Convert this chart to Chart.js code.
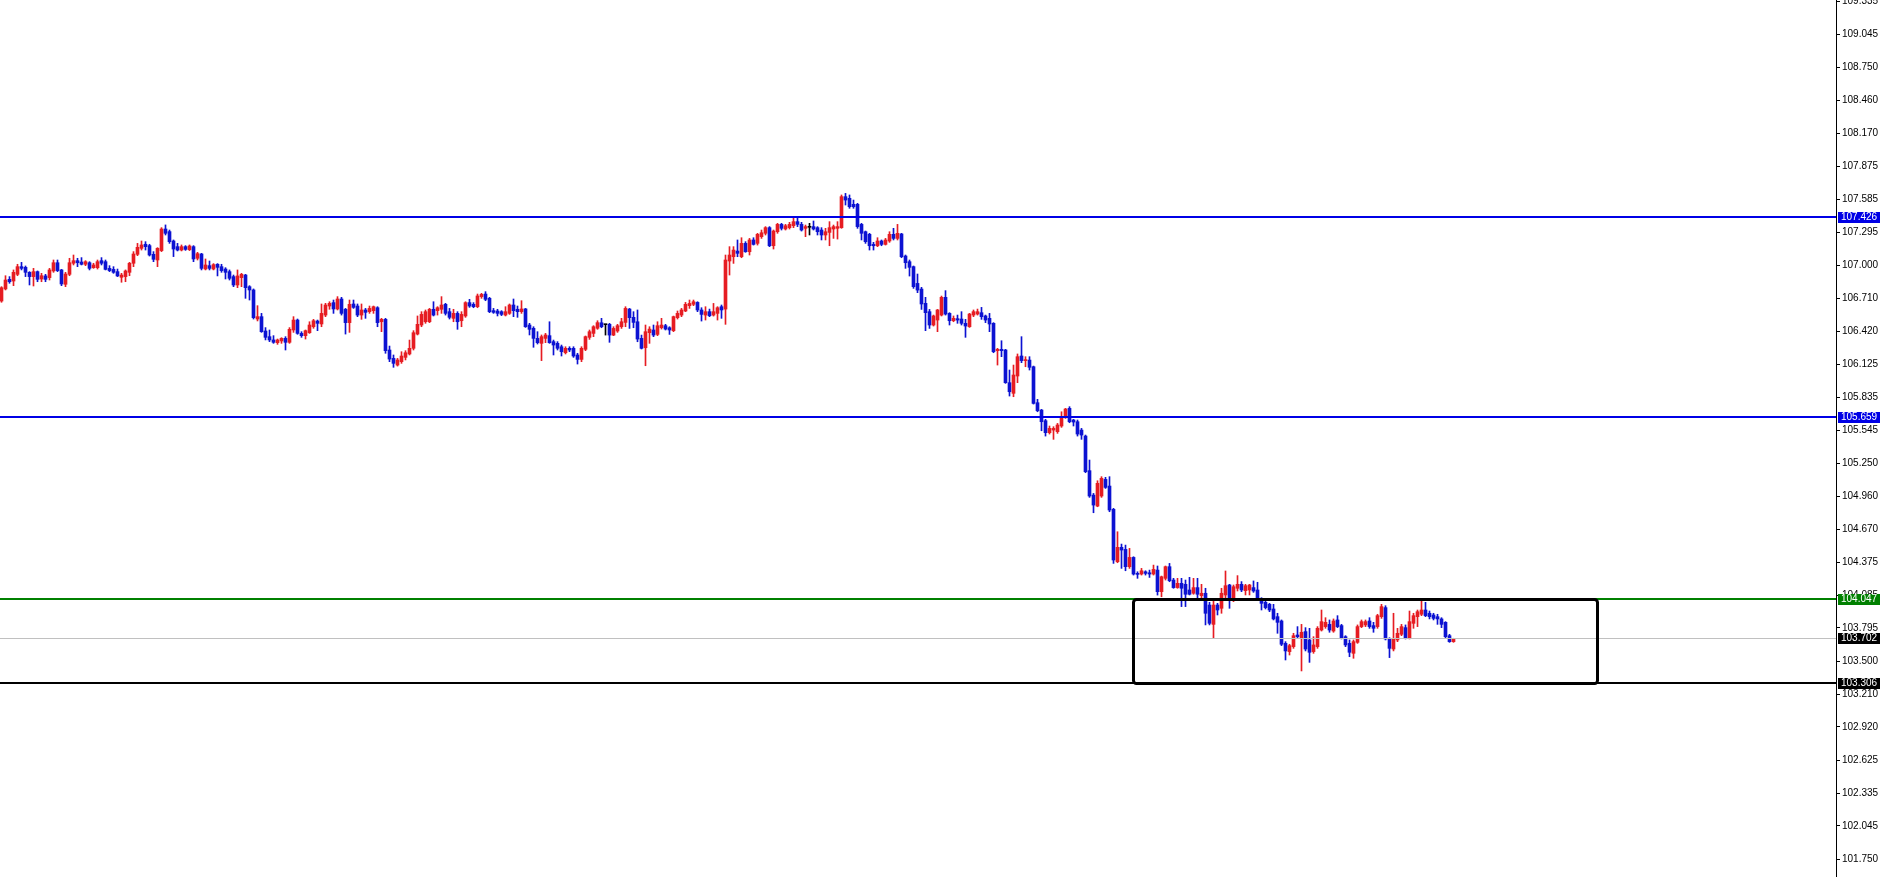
<!DOCTYPE html>
<html><head><meta charset="utf-8">
<script src="https://cdn.jsdelivr.net/npm/chart.js@4.4.1/dist/chart.umd.min.js"></script>
<style>html,body{margin:0;padding:0;background:#fff;overflow:hidden}#wrap{width:1883px;height:877px}</style>
</head><body><div id="wrap"><canvas id="c" width="1883" height="877"></canvas></div>
<script>
const opens=[
106.686,106.793,106.878,106.863,106.922,106.990,106.984,106.940,106.902,106.946,
106.881,106.908,106.893,106.952,107.025,106.961,106.834,106.922,107.020,107.043,
107.031,107.011,107.025,106.981,106.981,107.043,107.034,106.975,106.966,106.946,
106.896,106.902,106.940,107.020,107.099,107.152,107.188,107.176,107.099,107.049,
107.132,107.323,107.300,107.217,107.167,107.137,107.167,107.140,107.167,107.064,
107.102,106.969,106.999,106.969,107.011,106.990,106.969,106.946,106.902,106.828,
106.893,106.916,106.813,106.784,106.527,106.548,106.421,106.371,106.342,106.318,
106.333,106.356,106.321,106.430,106.518,106.400,106.380,106.406,106.459,106.509,
106.483,106.562,106.642,106.672,106.616,106.704,106.613,106.495,106.660,106.642,
106.562,106.607,106.592,106.601,106.627,106.503,106.524,106.253,106.179,106.120,
106.150,106.188,106.218,106.268,106.394,106.474,106.503,106.503,106.613,106.601,
106.613,106.657,106.592,106.533,106.577,106.512,106.554,106.672,106.657,106.636,
106.725,106.748,106.710,106.601,106.598,106.592,106.562,106.577,106.651,106.613,
106.592,106.616,106.474,106.445,106.356,106.312,106.356,106.380,106.327,106.312,
106.282,106.229,106.268,106.268,106.209,106.170,106.259,106.365,106.400,106.445,
106.494,106.477,106.480,106.385,106.421,106.459,106.497,106.615,106.542,106.503,
106.356,106.273,106.406,106.430,106.391,106.450,106.468,106.450,106.424,106.539,
106.562,106.598,106.645,106.657,106.674,106.607,106.562,106.592,106.562,106.577,
106.636,106.615,107.040,107.078,107.128,107.078,107.196,107.122,107.226,107.196,
107.255,107.285,107.335,107.175,107.299,107.364,107.323,107.335,107.352,107.388,
107.364,107.329,107.338,107.344,107.335,107.314,107.270,107.293,107.323,107.329,
107.335,107.609,107.594,107.541,107.541,107.364,107.299,107.276,107.187,107.175,
107.217,107.187,107.217,107.276,107.240,107.279,107.084,107.034,106.990,106.842,
106.792,106.666,106.592,106.474,106.518,106.562,106.719,106.577,106.512,106.530,
106.527,106.489,106.459,106.562,106.571,106.583,106.554,106.533,106.489,106.247,
106.259,106.253,105.964,105.870,106.023,106.200,106.159,106.164,106.105,105.787,
105.722,105.628,105.522,105.545,105.531,105.581,105.657,105.737,105.634,105.619,
105.545,105.492,105.186,104.970,104.873,104.962,105.109,105.050,104.844,104.381,
104.508,104.490,104.337,104.419,104.278,104.272,104.292,104.283,104.272,104.307,
104.116,104.234,104.337,104.219,104.152,104.190,104.181,104.131,104.102,104.152,
104.081,104.102,103.998,103.827,103.998,103.969,104.087,104.175,104.043,104.146,
104.181,104.125,104.131,104.152,104.131,104.057,104.022,104.004,103.963,103.895,
103.857,103.659,103.586,103.630,103.733,103.709,103.763,103.689,103.586,103.630,
103.777,103.807,103.827,103.768,103.866,103.816,103.718,103.659,103.571,103.668,
103.807,103.822,103.857,103.816,103.807,103.895,103.975,103.698,103.609,103.689,
103.739,103.798,103.704,103.836,103.895,103.916,103.954,103.925,103.910,103.895,
103.875,103.845,103.727,103.674];
const highs=[
106.813,106.910,106.902,106.961,107.011,107.028,106.996,106.946,106.975,106.952,
106.931,106.922,106.975,107.049,107.049,106.966,106.940,107.064,107.093,107.064,
107.070,107.043,107.034,107.020,107.049,107.070,107.049,106.999,106.990,106.969,
106.931,106.961,107.028,107.123,107.196,107.217,107.211,107.188,107.123,107.158,
107.335,107.359,107.314,107.226,107.196,107.182,107.176,107.182,107.176,107.117,
107.108,107.058,107.040,107.017,107.017,107.011,106.981,106.961,106.916,106.961,
106.931,106.922,106.822,106.793,106.645,106.577,106.451,106.430,106.380,106.350,
106.362,106.371,106.451,106.548,106.527,106.415,106.430,106.503,106.524,106.518,
106.660,106.666,106.680,106.695,106.725,106.719,106.621,106.695,106.695,106.660,
106.660,106.621,106.642,106.642,106.636,106.533,106.533,106.288,106.209,106.179,
106.238,106.247,106.341,106.424,106.554,106.592,106.607,106.621,106.680,106.636,
106.725,106.666,106.621,106.613,106.592,106.592,106.680,106.701,106.672,106.748,
106.754,106.769,106.719,106.621,106.613,106.601,106.636,106.660,106.704,106.642,
106.689,106.621,106.489,106.459,106.415,106.386,106.400,106.503,106.341,106.327,
106.297,106.282,106.282,106.282,106.224,106.282,106.377,106.430,106.468,106.512,
106.533,106.480,106.489,106.459,106.480,106.533,106.636,106.621,106.592,106.607,
106.385,106.474,106.459,106.474,106.503,106.533,106.480,106.459,106.553,106.598,
106.621,106.674,106.695,106.695,106.680,106.627,106.636,106.615,106.665,106.636,
106.651,107.093,107.167,107.167,107.226,107.246,107.211,107.240,107.246,107.285,
107.314,107.344,107.344,107.314,107.373,107.373,107.364,107.382,107.423,107.423,
107.382,107.358,107.373,107.394,107.344,107.335,107.329,107.388,107.358,107.388,
107.624,107.638,107.624,107.579,107.550,107.373,107.305,107.285,107.205,107.246,
107.226,107.240,107.299,107.329,107.364,107.285,107.093,107.049,106.996,106.925,
106.807,106.719,106.612,106.562,106.612,106.730,106.778,106.583,106.554,106.562,
106.592,106.524,106.577,106.607,106.615,106.630,106.562,106.577,106.495,106.268,
106.335,106.259,106.076,106.120,106.218,106.371,106.194,106.194,106.111,105.817,
105.728,105.640,105.581,105.575,105.604,105.707,105.737,105.752,105.640,105.634,
105.560,105.501,105.280,104.985,105.097,105.133,105.127,105.133,104.853,104.646,
104.537,104.528,104.499,104.425,104.292,104.322,104.301,104.307,104.351,104.343,
104.254,104.343,104.366,104.234,104.234,104.234,104.219,104.243,104.234,104.234,
104.181,104.146,104.022,104.034,104.013,104.146,104.299,104.181,104.175,104.258,
104.205,104.181,104.181,104.211,104.199,104.063,104.034,104.013,104.004,103.925,
103.866,103.674,103.651,103.748,103.807,103.827,103.798,103.792,103.718,103.807,
103.954,103.886,103.866,103.875,103.904,103.827,103.727,103.689,103.689,103.822,
103.866,103.866,103.886,103.845,103.916,104.004,103.992,103.709,103.925,103.792,
103.827,103.822,103.945,103.925,103.954,104.051,104.022,103.945,103.925,103.916,
103.886,103.851,103.739,103.704];
const lows=[
106.675,106.784,106.843,106.822,106.910,106.961,106.902,106.828,106.819,106.857,
106.857,106.857,106.872,106.940,106.946,106.822,106.813,106.910,107.005,106.990,
107.005,106.999,106.961,106.975,106.969,107.005,106.961,106.946,106.931,106.902,
106.852,106.857,106.910,106.990,107.087,107.137,107.137,107.084,107.034,106.990,
107.123,107.270,107.196,107.079,107.129,107.129,107.134,107.132,107.034,107.049,
106.961,106.961,106.961,106.961,106.908,106.940,106.881,106.872,106.813,106.804,
106.813,106.710,106.695,106.527,106.510,106.409,106.342,106.327,106.312,106.303,
106.312,106.253,106.312,106.409,106.392,106.365,106.350,106.400,106.445,106.424,
106.459,106.548,106.613,106.577,106.607,106.562,106.394,106.409,106.621,106.548,
106.524,106.533,106.577,106.577,106.459,106.415,106.224,106.150,106.100,106.111,
106.135,106.165,106.209,106.253,106.386,106.459,106.489,106.495,106.554,106.562,
106.577,106.562,106.527,106.503,106.436,106.459,106.542,106.630,106.627,106.627,
106.710,106.689,106.583,106.577,106.554,106.557,106.554,106.568,106.548,106.542,
106.577,106.453,106.386,106.277,106.306,106.159,106.318,106.312,106.209,106.253,
106.200,106.218,106.238,106.188,106.129,106.150,106.247,106.347,106.371,106.436,
106.450,106.385,106.321,106.380,106.409,106.444,106.459,106.444,106.450,106.326,
106.262,106.114,106.312,106.371,106.380,106.438,106.430,106.391,106.415,106.527,
106.548,106.592,106.621,106.645,106.592,106.509,106.518,106.548,106.553,106.518,
106.533,106.480,106.916,107.019,107.078,107.069,107.117,107.093,107.181,107.181,
107.240,107.270,107.167,107.146,107.285,107.314,107.314,107.323,107.335,107.344,
107.305,107.255,107.270,107.314,107.270,107.226,107.226,107.175,107.240,107.234,
107.329,107.535,107.506,107.506,107.329,107.226,107.196,107.137,107.137,107.167,
107.175,107.181,107.205,107.226,107.226,107.069,106.975,106.907,106.798,106.760,
106.612,106.424,106.444,106.465,106.415,106.554,106.562,106.474,106.503,106.489,
106.474,106.365,106.453,106.548,106.562,106.524,106.495,106.415,106.229,106.120,
106.194,105.958,105.846,105.840,105.964,106.141,106.105,106.076,105.775,105.707,
105.539,105.492,105.510,105.463,105.516,105.569,105.648,105.610,105.581,105.492,
105.463,105.168,104.950,104.814,104.867,104.950,105.029,104.823,104.366,104.372,
104.322,104.301,104.322,104.263,104.234,104.263,104.263,104.242,104.263,104.086,
104.071,104.219,104.204,104.146,104.146,103.984,103.984,104.087,104.093,104.063,
104.063,103.822,103.822,103.709,103.910,103.925,104.043,103.969,104.028,104.122,
104.116,104.087,104.087,104.110,104.051,103.954,103.963,103.939,103.866,103.748,
103.639,103.512,103.556,103.615,103.704,103.415,103.592,103.491,103.571,103.615,
103.768,103.792,103.757,103.757,103.798,103.698,103.630,103.541,103.527,103.659,
103.798,103.807,103.792,103.757,103.792,103.880,103.689,103.533,103.592,103.674,
103.727,103.698,103.698,103.792,103.807,103.904,103.895,103.875,103.866,103.827,
103.798,103.704,103.668,103.668];
const closes=[
106.804,106.872,106.857,106.940,106.990,106.975,106.940,106.902,106.946,106.878,
106.910,106.878,106.961,107.025,106.955,106.837,106.925,107.025,107.043,107.025,
107.011,107.034,106.975,107.005,107.034,107.020,106.966,106.955,106.940,106.908,
106.916,106.952,107.020,107.102,107.161,107.182,107.167,107.093,107.055,107.152,
107.323,107.285,107.211,107.146,107.137,107.167,107.143,107.173,107.058,107.105,
106.975,107.005,106.975,107.008,106.984,106.955,106.940,106.887,106.828,106.908,
106.922,106.804,106.784,106.539,106.548,106.415,106.365,106.342,106.321,106.342,
106.356,106.321,106.436,106.518,106.400,106.380,106.424,106.474,106.512,106.489,
106.577,106.651,106.666,106.616,106.704,106.577,106.495,106.657,106.630,106.562,
106.607,106.586,106.621,106.636,106.495,106.524,106.247,106.173,106.135,106.165,
106.200,106.229,106.268,106.406,106.480,106.568,106.592,106.613,106.562,106.627,
106.651,106.577,106.542,106.577,106.503,106.568,106.672,106.642,106.636,106.731,
106.745,106.701,106.592,106.586,106.577,106.568,106.592,106.651,106.601,106.592,
106.616,106.459,106.436,106.356,106.318,106.371,106.386,106.318,106.297,106.268,
106.238,106.268,106.253,106.200,106.170,106.268,106.371,106.415,106.459,106.495,
106.459,106.477,106.385,106.444,106.468,106.503,106.621,106.539,106.497,106.350,
106.268,106.415,106.438,106.385,106.468,106.474,106.438,106.430,106.548,106.577,
106.607,106.657,106.665,106.680,106.607,106.568,106.592,106.556,106.592,106.627,
106.607,107.049,107.093,107.137,107.108,107.196,107.122,107.226,107.187,107.276,
107.290,107.335,107.175,107.305,107.364,107.329,107.352,107.364,107.388,107.364,
107.314,107.344,107.338,107.323,107.299,107.270,107.299,107.335,107.344,107.344,
107.609,107.579,107.520,107.520,107.344,107.285,107.211,107.175,107.175,107.217,
107.187,107.226,107.276,107.240,107.285,107.078,107.025,106.984,106.813,106.783,
106.660,106.583,106.474,106.554,106.607,106.719,106.571,106.512,106.533,106.518,
106.489,106.465,106.571,106.592,106.592,106.548,106.518,106.483,106.238,106.259,
106.247,105.964,105.884,106.032,106.194,106.159,106.164,106.100,105.781,105.716,
105.619,105.522,105.560,105.560,105.590,105.657,105.731,105.619,105.616,105.510,
105.501,105.177,104.962,104.882,105.074,105.118,105.038,104.838,104.396,104.508,
104.484,104.337,104.419,104.272,104.269,104.301,104.278,104.272,104.313,104.116,
104.248,104.337,104.213,104.152,104.190,104.146,104.093,104.093,104.152,104.093,
104.102,103.925,103.836,103.998,103.954,104.102,104.169,104.043,104.160,104.181,
104.131,104.169,104.175,104.122,104.057,104.013,103.975,103.954,103.875,103.845,
103.651,103.592,103.639,103.727,103.718,103.757,103.609,103.580,103.645,103.792,
103.851,103.845,103.777,103.857,103.807,103.709,103.645,103.580,103.674,103.807,
103.851,103.851,103.807,103.792,103.904,103.984,103.698,103.615,103.698,103.748,
103.807,103.709,103.851,103.904,103.939,103.954,103.904,103.895,103.880,103.875,
103.827,103.718,103.674,103.702];

const tickValues=[109.335,109.045,108.750,108.460,108.170,107.875,107.585,107.295,107.000,106.710,106.420,106.125,105.835,105.545,105.250,104.960,104.670,104.375,104.085,103.795,103.500,103.210,102.920,102.625,102.335,102.045,101.750];
const levelValues=[107.426,105.659,104.047,103.306,103.702];
const boxRange={fromBar:282.9,toBar:398.9,low:103.306,high:104.047};
const yMin=101.593, yMax=109.348;

const levelStyles=[
 {color:'#0000e6',width:2,tag:'#0000e6',text:'#fff'},
 {color:'#0000e6',width:2,tag:'#0000e6',text:'#fff'},
 {color:'#008000',width:2,tag:'#008000',text:'#fff'},
 {color:'#000000',width:2,tag:'#000000',text:'#fff'},
 {color:'#c0c0c0',width:1,tag:'#000000',text:'#fff'}
];
const BULL='#e61c22', BEAR='#0c12d2', DOJI='#000000';
const FONT='"Liberation Sans", Arial, sans-serif';

const idx=closes.map((_,i)=>i);
const colorOf=i=>closes[i]>opens[i]?BULL:(closes[i]<opens[i]?BEAR:DOJI);
const colors=idx.map(colorOf);

const overlay={
  id:'overlay',
  afterDatasetsDraw(chart){
    const {ctx,chartArea:a,scales:{x,y}}=chart;
    ctx.save();
    ctx.beginPath();ctx.rect(a.left,a.top,a.right-a.left,a.bottom-a.top);ctx.clip();
    levelValues.forEach((v,k)=>{
      const st=levelStyles[k];
      const py=y.getPixelForValue(v);
      const yy=st.width%2?Math.round(py)+0.5:Math.round(py);
      ctx.strokeStyle=st.color;ctx.lineWidth=st.width;
      ctx.beginPath();ctx.moveTo(a.left,yy);ctx.lineTo(a.right,yy);ctx.stroke();
    });
    const x0=Math.round(x.getPixelForValue(boxRange.fromBar))+0.5;
    const x1=Math.round(x.getPixelForValue(boxRange.toBar))+0.5;
    const y0=Math.round(y.getPixelForValue(boxRange.high))+0.5;
    const y1=Math.round(y.getPixelForValue(boxRange.low))+0.5;
    ctx.strokeStyle='#000';ctx.lineWidth=3;ctx.lineJoin='round';
    ctx.beginPath();
    if(ctx.roundRect){ctx.roundRect(x0,y0,x1-x0,y1-y0,3);}else{ctx.rect(x0,y0,x1-x0,y1-y0);}
    ctx.stroke();
    ctx.restore();
  },
  afterDraw(chart){
    const {ctx,chartArea:a,scales:{y}}=chart;
    ctx.save();
    ctx.font='10px '+FONT;ctx.textBaseline='middle';ctx.textAlign='left';
    levelValues.forEach((v,k)=>{
      const st=levelStyles[k];
      const py=Math.round(y.getPixelForValue(v));
      ctx.fillStyle=st.tag;
      ctx.fillRect(a.right+2,py-5,42,11);
      ctx.fillStyle=st.text;
      ctx.fillText(v.toFixed(3),a.right+5,py+0.5);
    });
    ctx.restore();
  }
};

new Chart(document.getElementById('c'),{
  type:'bar',
  data:{datasets:[
    {label:'wick',data:idx.map(i=>({x:i,y:[lows[i],highs[i]]})),backgroundColor:colors,grouped:false,barThickness:1,maxBarThickness:1,order:2},
    {label:'body',data:idx.map(i=>({x:i,y:[opens[i],closes[i]]})),backgroundColor:colors,grouped:false,barThickness:3,maxBarThickness:3,minBarLength:1,order:1}
  ]},
  options:{
    responsive:false,animation:false,devicePixelRatio:1,events:[],
    layout:{padding:0},
    plugins:{legend:{display:false},tooltip:{enabled:false}},
    scales:{
      x:{type:'linear',display:false,min:-0.375,max:458.625,offset:false,grid:{display:false}},
      y:{type:'linear',position:'right',min:yMin,max:yMax,bounds:'data',
        afterBuildTicks(s){s.ticks=tickValues.map(v=>({value:v}));},
        afterFit(s){s.width=47;s.paddingTop=0;s.paddingBottom=0;},
        ticks:{autoSkip:false,color:'#000',padding:2,font:{family:FONT,size:10},callback:v=>Number(v).toFixed(3)},
        grid:{drawOnChartArea:false,drawTicks:true,tickLength:4,color:'#000'},
        border:{display:true,color:'#000',width:1}
      }
    }
  },
  plugins:[overlay]
});
</script>
</body></html>
